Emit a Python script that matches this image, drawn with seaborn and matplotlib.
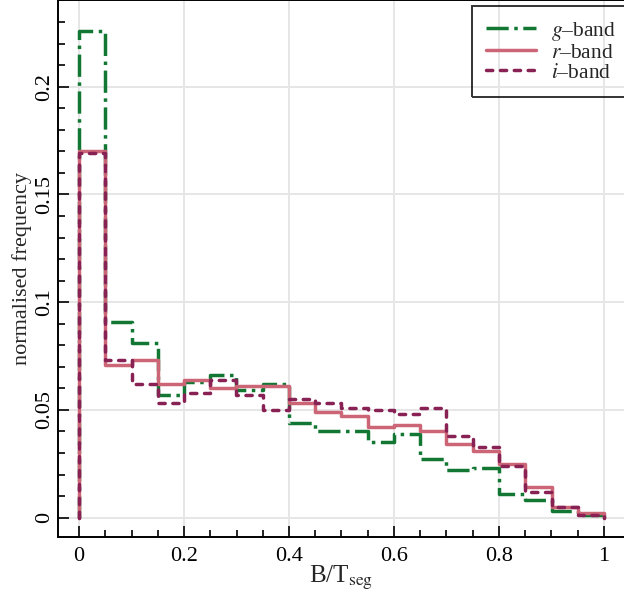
import matplotlib

matplotlib.use("Agg")
import matplotlib.pyplot as plt
import numpy as np
import pandas as pd
import seaborn as sns
from matplotlib.ticker import FuncFormatter, MultipleLocator

# histogram bins in B/T_seg and normalised frequency per band
bin_edges = [round(0.05 * k, 2) for k in range(21)]
g_band = [0.226, 0.091, 0.081, 0.057, 0.063, 0.066, 0.059, 0.062, 0.044, 0.040,
          0.040, 0.035, 0.039, 0.027, 0.022, 0.023, 0.011, 0.008, 0.003, 0.001]
r_band = [0.170, 0.071, 0.073, 0.062, 0.064, 0.060, 0.061, 0.061, 0.053, 0.049,
          0.047, 0.042, 0.043, 0.040, 0.034, 0.031, 0.025, 0.014, 0.005, 0.002]
i_band = [0.169, 0.073, 0.062, 0.053, 0.058, 0.064, 0.057, 0.050, 0.055, 0.053,
          0.051, 0.050, 0.048, 0.051, 0.038, 0.033, 0.024, 0.012, 0.005, 0.001]
band_labels = ["$g$\u2013band", "$r$\u2013band", "$i$\u2013band"]
band_colours = ["#117733", "#CC6677", "#882255"]
band_styles = ["-.", "-", (0, (1.8, 2.2))]

sns.set_theme(
    style="ticks",
    rc={
        "axes.grid": True,
        "grid.color": "#e6e6e6",
        "grid.linewidth": 1.4,
        "axes.edgecolor": "black",
        "axes.linewidth": 1.4,
        "xtick.color": "black",
        "ytick.color": "black",
        "font.size": 16,
    },
)
plt.rcParams["font.family"] = ["Liberation Serif", "DejaVu Serif"]
plt.rcParams["mathtext.fontset"] = "stix"

edges = np.array(bin_edges)
centres = (edges[:-1] + edges[1:]) / 2
df = pd.DataFrame(
    {
        "centre": np.tile(centres, 3),
        "freq": np.concatenate([g_band, r_band, i_band]),
        "band": np.repeat(band_labels, len(centres)),
    }
)

# zero-width bins at both ends so the step outline drops to zero like histtype="step"
step_bins = [bin_edges[0]] + bin_edges + [bin_edges[-1]]

fig = plt.figure(figsize=(6.24, 5.96), dpi=100)
ax = fig.add_axes([58 / 624, 59 / 596, 567 / 624, 536.5 / 596])

for label, colour, style in zip(band_labels, band_colours, band_styles):
    sub = df[df["band"] == label]
    sns.histplot(
        data=sub,
        x="centre",
        weights="freq",
        bins=step_bins,
        element="step",
        fill=False,
        color=colour,
        linestyle=style,
        linewidth=2.5,
        dash_capstyle="round" if label.startswith("$i") else "butt",
        label=label,
        ax=ax,
    )

ax.set_xlim(-0.04, 1.04)
ax.set_ylim(-0.009, 0.24)
ax.xaxis.set_major_locator(MultipleLocator(0.2))
ax.xaxis.set_minor_locator(MultipleLocator(0.05))
ax.yaxis.set_major_locator(MultipleLocator(0.05))
ax.yaxis.set_minor_locator(MultipleLocator(0.01))
fmt = FuncFormatter(lambda v, _: f"{v:g}" if abs(v) > 1e-9 else "0")
ax.xaxis.set_major_formatter(fmt)
ax.yaxis.set_major_formatter(fmt)
ax.tick_params(which="both", direction="in", top=False, right=False, width=1.2, labelsize=16)
ax.tick_params(which="major", length=8)
ax.tick_params(which="minor", length=5)
ax.tick_params(axis="x", pad=7)
ax.tick_params(axis="y", labelrotation=90, pad=3)
for t in ax.get_yticklabels():
    t.set_va("center")
ax.grid(which="major", color="#e6e6e6", linewidth=1.4)
ax.grid(which="minor", visible=False)
ax.set_axisbelow(True)

ax.set_xlabel("B/T$_\\mathrm{seg}$", fontsize=18, labelpad=-1)
ax.set_ylabel("normalised frequency", fontsize=16, labelpad=2)

leg = ax.legend(
    loc="lower left",
    bbox_to_anchor=(472 / 624, 1 - 97 / 596),
    bbox_transform=fig.transFigure,
    borderaxespad=0,
    fontsize=15.5,
    borderpad=0.65,
    labelspacing=0.0,
    handlelength=2.3,
    handletextpad=0.7,
    fancybox=False,
    frameon=True,
)
leg.get_frame().set_edgecolor("black")
leg.get_frame().set_facecolor("none")
leg.get_frame().set_linewidth(1.4)

fig.savefig("out.png", dpi=100)
